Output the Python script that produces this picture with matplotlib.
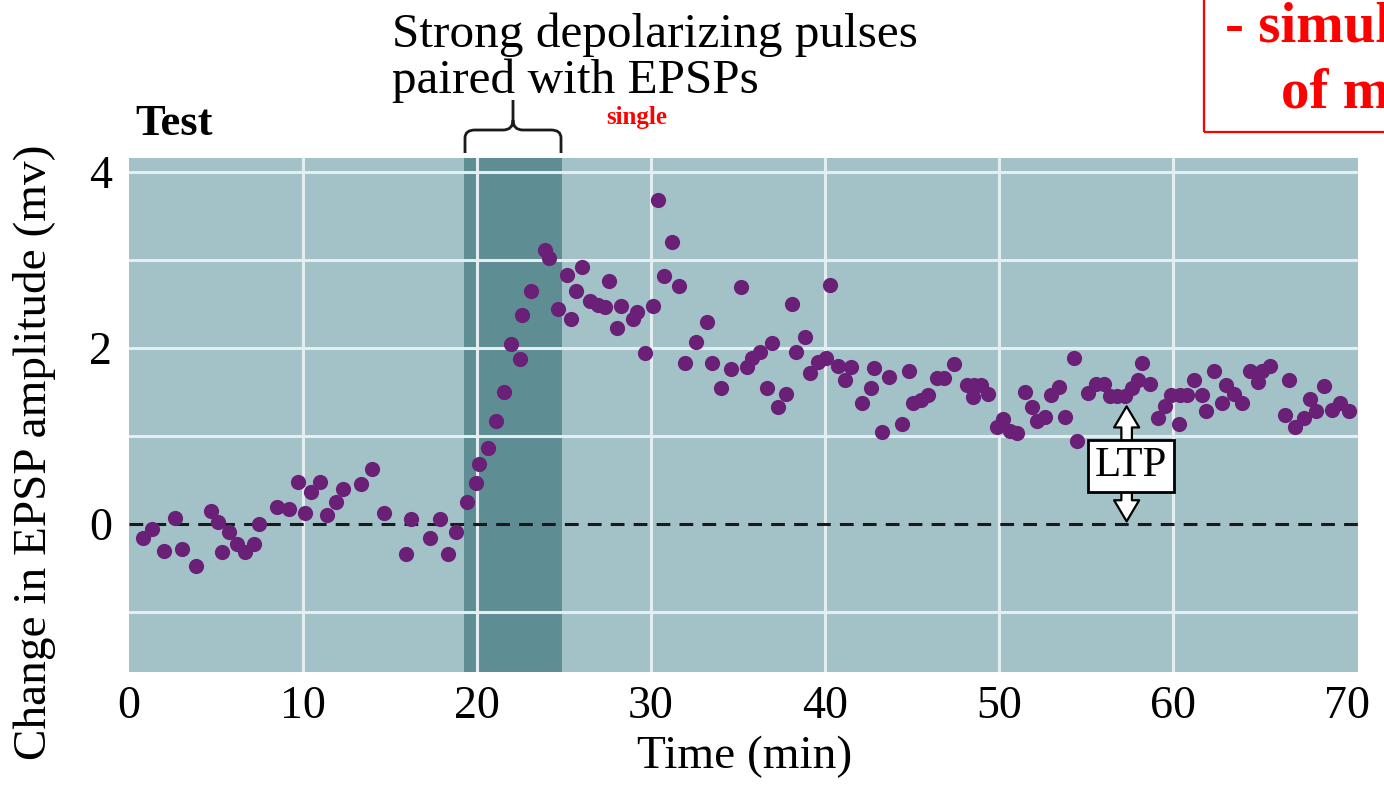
import matplotlib.pyplot as plt
from matplotlib.patches import FancyArrowPatch, Rectangle, PathPatch
from matplotlib.path import Path

# data
time_min = [0.82, 1.34, 1.99, 2.64, 3.03, 3.85, 4.71, 5.13, 5.36, 5.76,
            6.19, 6.69, 7.18, 7.49, 8.52, 9.21, 9.73, 10.13, 10.46, 10.96,
            11.36, 11.88, 12.28, 13.33, 13.97, 14.64, 15.92, 16.23, 17.28, 17.87,
            18.35, 18.81, 19.43, 19.92, 20.11, 20.63, 21.07, 21.53, 21.97, 22.47,
            22.62, 23.10, 23.89, 24.16, 24.69, 25.19, 25.38, 25.69, 26.03, 26.51,
            26.97, 27.34, 27.60, 28.08, 28.28, 28.95, 29.20, 29.66, 30.10, 30.40,
            30.78, 31.19, 31.61, 31.95, 32.59, 33.20, 33.54, 34.01, 34.58, 35.17,
            35.50, 35.82, 36.28, 36.70, 36.99, 37.32, 37.76, 38.12, 38.35, 38.85,
            39.14, 39.58, 40.04, 40.27, 40.77, 41.15, 41.53, 42.16, 42.64, 42.82,
            43.31, 43.68, 44.44, 44.85, 45.08, 45.55, 45.94, 46.42, 46.86, 47.41,
            48.18, 48.49, 48.58, 48.97, 49.39, 49.87, 50.27, 50.63, 51.03, 51.51,
            51.92, 52.22, 52.64, 53.03, 53.49, 53.81, 54.35, 54.52, 55.13, 55.57,
            56.05, 56.38, 56.80, 57.24, 57.63, 58.03, 58.22, 58.72, 59.16, 59.58,
            59.90, 60.36, 60.40, 60.84, 61.21, 61.69, 61.94, 62.36, 62.82, 63.05,
            63.51, 63.97, 64.43, 64.89, 65.15, 65.59, 66.44, 66.67, 67.03, 67.55,
            67.91, 68.26, 68.72, 69.14, 69.60, 70.13]
epsp_change = [-0.16, -0.05, -0.31, 0.07, -0.28, -0.47, 0.15, 0.02, -0.32, -0.09,
               -0.22, -0.32, -0.22, 0.00, 0.19, 0.17, 0.48, 0.13, 0.36, 0.48,
               0.10, 0.25, 0.40, 0.46, 0.63, 0.13, -0.34, 0.06, -0.16, 0.06,
               -0.34, -0.09, 0.25, 0.47, 0.68, 0.86, 1.17, 1.50, 2.05, 1.88,
               2.38, 2.65, 3.11, 3.02, 2.45, 2.83, 2.33, 2.65, 2.92, 2.54,
               2.49, 2.47, 2.76, 2.23, 2.48, 2.33, 2.41, 1.95, 2.48, 3.68,
               2.82, 3.20, 2.71, 1.83, 2.07, 2.30, 1.83, 1.55, 1.76, 2.69,
               1.79, 1.89, 1.96, 1.55, 2.06, 1.33, 1.48, 2.50, 1.96, 2.13,
               1.72, 1.84, 1.89, 2.72, 1.80, 1.64, 1.78, 1.38, 1.55, 1.77,
               1.05, 1.67, 1.14, 1.74, 1.38, 1.41, 1.47, 1.66, 1.66, 1.82,
               1.58, 1.44, 1.58, 1.58, 1.48, 1.10, 1.20, 1.06, 1.04, 1.50,
               1.33, 1.17, 1.22, 1.47, 1.56, 1.22, 1.89, 0.95, 1.49, 1.59,
               1.59, 1.46, 1.46, 1.46, 1.55, 1.64, 1.83, 1.59, 1.21, 1.34,
               1.47, 1.14, 1.47, 1.47, 1.64, 1.47, 1.29, 1.74, 1.38, 1.58,
               1.48, 1.38, 1.74, 1.62, 1.74, 1.80, 1.24, 1.64, 1.10, 1.21,
               1.42, 1.29, 1.57, 1.30, 1.38, 1.29]

x_ticks = [0, 10, 20, 30, 40, 50, 60, 70]
y_ticks = [0, 2, 4]
y_grid = [-1, 1, 2, 3, 4]
pulse_start, pulse_end = 19.25, 24.9
ltp_time, ltp_level = 57.35, 1.37

W, H = 1384, 792
fig = plt.figure(figsize=(W / 100, H / 100), dpi=100)
ax = fig.add_axes([129 / W, 1 - 672 / H, (1358 - 129) / W, (672 - 158) / H])

plt.rcParams['font.family'] = ['Liberation Serif', 'DejaVu Serif']
serif = 'Liberation Serif'

ax.set_facecolor('#a3c2c7')
ax.axvspan(pulse_start, pulse_end, color='#5e8e93', zorder=0.5, lw=0)

grid_color = '#e4eef0'
for xv in x_ticks[1:-1]:
    ax.axvline(xv, color=grid_color, lw=2.2, zorder=1)
for yv in y_grid:
    ax.axhline(yv, color=grid_color, lw=2.2, zorder=1)
ax.axhline(0, color='#1a1a1a', lw=2.2, ls=(0, (4.5, 3)), zorder=2)

ax.scatter(time_min, epsp_change, s=120, color='#6a2077', lw=0, zorder=3)

ax.set_xlim(0, 70.65)
ax.set_ylim(-1.68, 4.16)
ax.set_xticks(x_ticks)
ax.set_yticks(y_ticks)
ax.tick_params(length=0, labelsize=33, pad=10)
ax.tick_params(axis='y', pad=12)
for lab in ax.get_xticklabels() + ax.get_yticklabels():
    lab.set_family(serif)
for s in ax.spines.values():
    s.set_visible(False)

ax.set_xlabel('Time (min)', fontsize=34, family=serif)
ax.xaxis.set_label_coords(0.501, -0.124)
fig.text(35 / W, 1 - 452 / H, 'Change in EPSP amplitude (mv)', rotation=90,
         ha='center', va='center', fontsize=34, family=serif)

# LTP double arrow with label
arrow_kw = dict(arrowstyle='simple,head_width=0.95,head_length=0.8,tail_width=0.4',
                mutation_scale=19, fc='white', ec='black', lw=1.6, zorder=4)
ax.add_patch(FancyArrowPatch((ltp_time, 0.9), (ltp_time, ltp_level), **arrow_kw))
ax.add_patch(FancyArrowPatch((ltp_time, 0.4), (ltp_time, 0.0), **arrow_kw))
ax.text(ltp_time + 0.25, 0.66, 'LTP', fontsize=31, family=serif, ha='center', va='center',
        zorder=5, bbox=dict(boxstyle='square,pad=0.16', fc='white', ec='black', lw=2))


def fx(px):
    return px / W


def fy(py):
    return 1 - py / H


fig.text(fx(135), fy(135), 'Test', fontsize=32, fontweight='bold', family=serif, va='baseline')
fig.text(fx(392), fy(47), 'Strong depolarizing pulses', fontsize=35.5, family=serif, va='baseline')
fig.text(fx(392), fy(93), 'paired with EPSPs', fontsize=35.5, family=serif, va='baseline')
fig.text(fx(637), fy(124), 'single', fontsize=18, fontweight='bold', color='red',
         family=serif, ha='center', va='baseline')

# brace above the pulse period
verts = [(465, 153), (465, 138), (465, 130), (475, 130), (503, 130), (513, 130),
         (513, 120), (513, 100), (513, 120), (513, 130), (523, 130), (551, 130),
         (561, 130), (561, 138), (561, 153)]
codes = [Path.MOVETO, Path.LINETO, Path.CURVE3, Path.CURVE3, Path.LINETO, Path.CURVE3,
         Path.CURVE3, Path.LINETO, Path.MOVETO, Path.CURVE3, Path.CURVE3, Path.LINETO,
         Path.CURVE3, Path.CURVE3, Path.LINETO]
brace = Path([(fx(a), fy(b)) for a, b in verts], codes)
fig.add_artist(PathPatch(brace, transform=fig.transFigure, fc='none', ec='#1a1a1a', lw=2))

# red note box in the corner, cut by the figure edge as in the source
fig.add_artist(Rectangle((fx(1204), fy(132)), 0.2, 0.3, transform=fig.transFigure,
                         fc='none', ec='red', lw=1.6))
fig.text(fx(1225), fy(42), '- simul', fontsize=41, fontweight='bold', color='red',
         family=serif, va='baseline')
fig.text(fx(1281), fy(108), 'of m', fontsize=41, fontweight='bold', color='red',
         family=serif, va='baseline')

fig.savefig('out.png', dpi=100)
